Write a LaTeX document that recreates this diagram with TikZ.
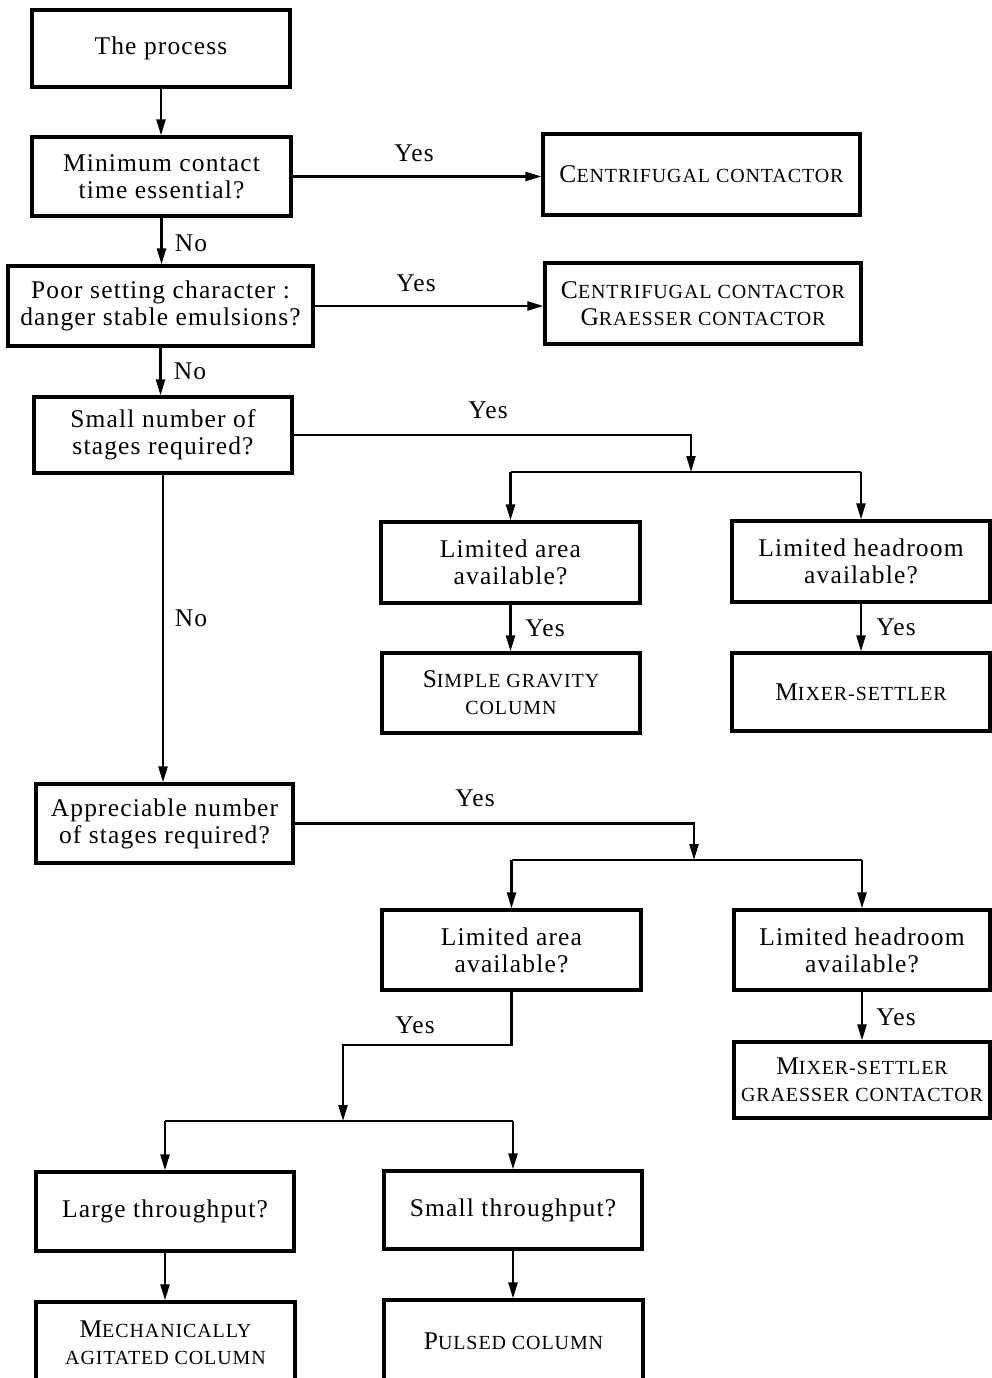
\documentclass[tikz,border=0pt]{standalone}
\usepackage{fontspec}
\setmainfont{Liberation Serif}[LetterSpace=4.5]
\usetikzlibrary{arrows.meta}
\newcommand\bigT{\fontsize{25.5}{27}\selectfont}
\newcommand\scs{\fontsize{20}{27}\selectfont}
\newcommand\SC[2]{{\bigT #1}{\scs #2}}
\tikzset{
  box/.style={draw, line width=3.2pt, inner sep=0pt, align=center, font=\bigT},
  conn/.style={line width=2.3pt},
  arr/.style={line width=2.3pt, -{Triangle[length=16pt,width=9pt]}},
  lbl/.style={font=\bigT, inner sep=0pt}
}
\begin{document}
\begin{tikzpicture}[x=1pt,y=-1pt]
\clip (0,0) rectangle (992,1378);
\fill[white] (0,0) rectangle (992,1378);
% boxes
\node[box, minimum width=258, minimum height=77] (proc) at (161,48.5) {The process};
\node[box, minimum width=259, minimum height=79] (mct) at (161.5,176.5) {Minimum contact\\time essential?};
\node[box, minimum width=317, minimum height=81] (cc1) at (701.5,174.5) {\SC{C}{ENTRIFUGAL CONTACTOR}};
\node[box, minimum width=305, minimum height=80] (poor) at (160.5,306) {Poor setting character :\\danger stable emulsions?};
\node[box, minimum width=316, minimum height=81] (cc2) at (703,303.5) {\SC{C}{ENTRIFUGAL CONTACTOR}\\\SC{G}{RAESSER CONTACTOR}};
\node[box, minimum width=258, minimum height=76] (small) at (163,435) {Small number of\\stages required?};
\node[box, minimum width=259, minimum height=81] (la1) at (510.5,562.5) {Limited area\\available?};
\node[box, minimum width=258, minimum height=80] (sg) at (511,693) {\SC{S}{IMPLE GRAVITY}\\{\scs COLUMN}};
\node[box, minimum width=258, minimum height=81] (lh1) at (861,561.5) {Limited headroom\\available?};
\node[box, minimum width=258, minimum height=78] (ms1) at (861,692) {\SC{M}{IXER-SETTLER}};
\node[box, minimum width=257, minimum height=79] (app) at (164.5,823.5) {Appreciable number\\of stages required?};
\node[box, minimum width=259, minimum height=80] (la2) at (511.5,950) {Limited area\\available?};
\node[box, minimum width=256, minimum height=80] (lh2) at (862,950) {Limited headroom\\available?};
\node[box, minimum width=256, minimum height=76] (ms2) at (862,1080) {\SC{M}{IXER-SETTLER}\\{\scs GRAESSER CONTACTOR}};
\node[box, minimum width=258, minimum height=79] (lt) at (165,1211.5) {Large throughput?};
\node[box, minimum width=258, minimum height=78] (st) at (513,1210) {Small throughput?};
\node[box, minimum width=259, minimum height=82] (mech) at (165.5,1343) {\SC{M}{ECHANICALLY}\\{\scs AGITATED COLUMN}};
\node[box, minimum width=259, minimum height=82] (pulse) at (513.5,1341) {\SC{P}{ULSED COLUMN}};
% junctions
\coordinate (j1) at (691,472);
\coordinate (j2) at (694,860);
\coordinate (k1) at (343,1045);
\coordinate (j3) at (343,1121);
% connectors
\draw[arr] (proc.south) -- (proc.south |- mct.north);
\draw[arr] (mct.east) -- (mct.east -| cc1.west);
\draw[arr] (mct.south) -- (mct.south |- poor.north);
\draw[arr] (poor.east) -- (poor.east -| cc2.west);
\draw[arr] (poor.south) -- (poor.south |- small.north);
\draw[arr] (small.east) -| (j1);
\draw[conn] (la1.north |- j1) -- (lh1.north |- j1);
\draw[arr] (la1.north |- j1) -- (la1.north);
\draw[arr] (lh1.north |- j1) -- (lh1.north);
\draw[arr] (la1.south) -- (la1.south |- sg.north);
\draw[arr] (lh1.south) -- (lh1.south |- ms1.north);
\draw[arr] (small.south) -- (small.south |- app.north);
\draw[arr] (app.east) -| (j2);
\draw[conn] (la2.north |- j2) -- (lh2.north |- j2);
\draw[arr] (la2.north |- j2) -- (la2.north);
\draw[arr] (lh2.north |- j2) -- (lh2.north);
\draw[arr] (lh2.south) -- (lh2.south |- ms2.north);
\draw[arr] (la2.south) |- (k1) -- (j3);
\draw[conn] (lt.north |- j3) -- (st.north |- j3);
\draw[arr] (lt.north |- j3) -- (lt.north);
\draw[arr] (st.north |- j3) -- (st.north);
\draw[arr] (lt.south) -- (lt.south |- mech.north);
\draw[arr] (st.south) -- (st.south |- pulse.north);
% labels
\node[lbl] (y1) at (414,153) {Yes};
\node[lbl] (n1) at (191,243) {No};
\node[lbl] (y2) at (416,283) {Yes};
\node[lbl] (n2) at (190,371) {No};
\node[lbl] (y3) at (488,410) {Yes};
\node[lbl] (y4) at (545,628) {Yes};
\node[lbl] (y5) at (896,627) {Yes};
\node[lbl] (n3) at (191,618) {No};
\node[lbl] (y6) at (475,798) {Yes};
\node[lbl] (y7) at (896,1017) {Yes};
\node[lbl] (y8) at (415,1025) {Yes};
\end{tikzpicture}
\end{document}
